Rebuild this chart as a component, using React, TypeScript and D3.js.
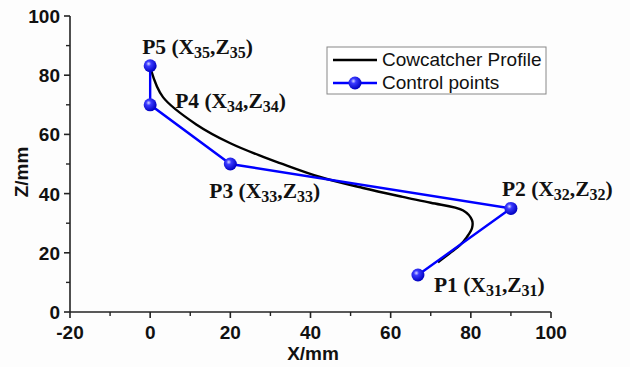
import React from "react";
import * as d3 from "d3";

const curveX = [71.8, 74.8, 77.3, 79, 80.3, 80.3, 78.1, 70, 63, 53.1, 42.4, 32.4, 28.2, 20, 11.7, 3.2, 0.2];
const curveZ = [16.8, 19.9, 22.6, 25.3, 28.4, 31, 34.3, 36.9, 38.9, 41.9, 45.6, 50.3, 52.4, 57, 63.2, 72.6, 81.8];

const ctrlX = [66.8, 90, 20, 0, 0];
const ctrlZ = [12.5, 35, 50, 70, 83.2];
const ctrlNames = ["P1", "P2", "P3", "P4", "P5"];
const ctrlSubs = ["31", "32", "33", "34", "35"];

const xTicks = [-20, 0, 20, 40, 60, 80, 100];
const yTicks = [0, 20, 40, 60, 80, 100];
const xMinor = [-10, 10, 30, 50, 70, 90];
const yMinor = [10, 30, 50, 70, 90];

const legendLabels = ["Cowcatcher Profile", "Control points"];

export default function App() {
  const W = 630, H = 367;
  const x = d3.scaleLinear().domain([-20, 100]).range([70, 551]);
  const y = d3.scaleLinear().domain([0, 100]).range([312, 16]);

  const curvePts: [number, number][] = curveX.map((v, i) => [v, curveZ[i]]);
  const ctrlPts: [number, number][] = ctrlX.map((v, i) => [v, ctrlZ[i]]);

  const curvePath = d3.line<[number, number]>().x(d => x(d[0])).y(d => y(d[1])).curve(d3.curveCatmullRom.alpha(0.5))(curvePts) || "";
  const ctrlPath = d3.line<[number, number]>().x(d => x(d[0])).y(d => y(d[1]))(ctrlPts) || "";

  // label offsets (px) relative to each point
  const labelOff: [number, number][] = [
    [16, 17],
    [-9, -12],
    [-21, 34],
    [25, 3],
    [-8, -12],
  ];

  const axisColor = "#222";
  const tickFont = { fontFamily: "Liberation Sans, Arial, sans-serif", fontWeight: 700, fontSize: 19 } as const;
  const lblFont = { fontFamily: "Liberation Serif, 'Times New Roman', serif", fontWeight: 700, fontSize: 21.5 } as const;

  return (
    <svg width={W} height={H} style={{ position: "absolute", left: 0, top: 0, background: "#fff" }}>
      <defs>
        <radialGradient id="ball" cx="0.38" cy="0.35" r="0.65">
          <stop offset="0" stopColor="#d8d8ff" />
          <stop offset="0.3" stopColor="#3a3aff" />
          <stop offset="1" stopColor="#0000c0" />
        </radialGradient>
      </defs>
      <rect width={W} height={H} fill="#fdfdfd" />

      {/* axes */}
      <line x1={x(-20)} x2={x(100)} y1={y(0)} y2={y(0)} stroke={axisColor} strokeWidth={1.6} />
      <line x1={x(-20)} x2={x(-20)} y1={y(0)} y2={y(100)} stroke={axisColor} strokeWidth={1.6} />
      {xTicks.map(t => (
        <g key={"xt" + t}>
          <line x1={x(t)} x2={x(t)} y1={y(0)} y2={y(0) + 6} stroke={axisColor} strokeWidth={1.6} />
          <text x={x(t)} y={339} textAnchor="middle" {...tickFont} fill="#111">{t}</text>
        </g>
      ))}
      {xMinor.map(t => (
        <line key={"xm" + t} x1={x(t)} x2={x(t)} y1={y(0)} y2={y(0) + 4} stroke={axisColor} strokeWidth={1.4} />
      ))}
      {yTicks.map(t => (
        <g key={"yt" + t}>
          <line x1={x(-20) - 6} x2={x(-20)} y1={y(t)} y2={y(t)} stroke={axisColor} strokeWidth={1.6} />
          <text x={60} y={y(t) + 7} textAnchor="end" {...tickFont} fill="#111">{t}</text>
        </g>
      ))}
      {yMinor.map(t => (
        <line key={"ym" + t} x1={x(-20) - 4} x2={x(-20)} y1={y(t)} y2={y(t)} stroke={axisColor} strokeWidth={1.4} />
      ))}
      <text x={313} y={360} textAnchor="middle" {...tickFont} fill="#111">X/mm</text>
      <text transform={`translate(28,172) rotate(-90)`} textAnchor="middle" {...tickFont} fill="#111">Z/mm</text>

      {/* curve */}
      <path d={curvePath} fill="none" stroke="#000" strokeWidth={2.4} />
      {/* control polygon */}
      <path d={ctrlPath} fill="none" stroke="#0000ff" strokeWidth={2.4} />
      {ctrlPts.map((p, i) => (
        <circle key={"c" + i} cx={x(p[0])} cy={y(p[1])} r={6.5} fill="url(#ball)" />
      ))}

      {/* labels */}
      {ctrlPts.map((p, i) => (
        <text key={"l" + i} x={x(p[0]) + labelOff[i][0]} y={y(p[1]) + labelOff[i][1]} {...lblFont} fill="#111">
          {ctrlNames[i]} (X<tspan fontSize={16} dy={4}>{ctrlSubs[i]}</tspan>
          <tspan dy={-4}>,Z</tspan><tspan fontSize={16} dy={4}>{ctrlSubs[i]}</tspan>
          <tspan dy={-4}>)</tspan>
        </text>
      ))}

      {/* legend */}
      <rect x={327} y={47} width={219} height={47} fill="#fff" stroke="#888" strokeWidth={1} />
      <line x1={333} x2={377} y1={60} y2={60} stroke="#000" strokeWidth={2.4} />
      <text x={382} y={66} fontFamily="Liberation Sans, Arial, sans-serif" fontSize={19} fill="#111">{legendLabels[0]}</text>
      <line x1={333} x2={377} y1={83} y2={83} stroke="#0000ff" strokeWidth={2.4} />
      <circle cx={355} cy={83} r={6.5} fill="url(#ball)" />
      <text x={382} y={89} fontFamily="Liberation Sans, Arial, sans-serif" fontSize={19} fill="#111">{legendLabels[1]}</text>
    </svg>
  );
}
